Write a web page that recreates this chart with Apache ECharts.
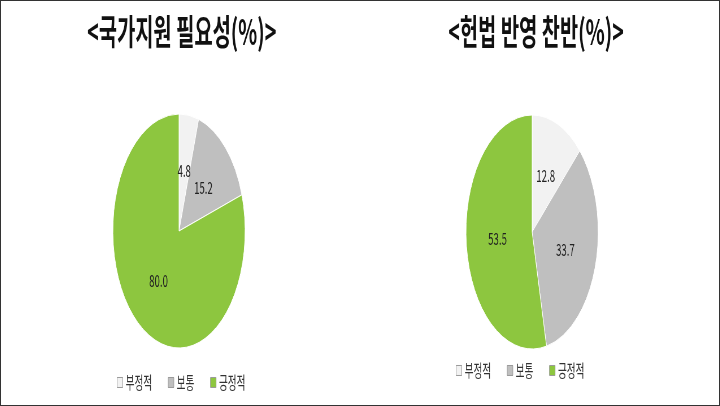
<!DOCTYPE html>
<html><head><meta charset="utf-8">
<script src="https://cdn.jsdelivr.net/npm/echarts@6/dist/echarts.min.js"></script>
<style>
html,body{margin:0;padding:0;background:#fff;overflow:hidden}
#wrap{width:720px;height:406px;position:relative;box-sizing:border-box;border:1px solid #333;overflow:hidden}
#main{width:1274px;height:406px;transform:scaleX(0.565);transform-origin:0 0;position:absolute;left:0;top:0}
</style></head>
<body><div id="wrap"><div id="main"></div></div>
<script>
var categories = ['부정적', '보통', '긍정적'];
var supportValues = [4.8, 15.2, 80.0];
var constitutionValues = [12.8, 33.7, 53.5];
var titles = ['<국가지원 필요성(%)>', '<헌법 반영 찬반(%)>'];
var colors = ['#f2f2f2', '#bfbfbf', '#8dc63f'];

var myChart = echarts.init(document.getElementById('main'));

function makeData(vals){
	return categories.map(function(c,i){ return {name:c, value:vals[i]}; });
}
function makePie(vals, cx, cy){
	return {
		type:'pie', center:[cx, cy], radius:[0, 117], startAngle:90, clockwise:true,
		silent:true, data:makeData(vals),
		itemStyle:{borderColor:'#fff', borderWidth:1},
		label:{show:true, position:'inner', color:'#222', fontSize:17, fontFamily:'Noto Sans CJK KR',
			formatter:function(p){ return p.value.toFixed(1); }},
		labelLine:{show:false}
	};
}

myChart.setOption({
	animation:false,
	color:colors,
	title:[
		{text:titles[0], left:315, top:8, textAlign:'center',
			textStyle:{fontSize:35, fontWeight:'bold', color:'#111', fontFamily:'Noto Sans CJK KR'}},
		{text:titles[1], left:942, top:8, textAlign:'center',
			textStyle:{fontSize:35, fontWeight:'bold', color:'#111', fontFamily:'Noto Sans CJK KR'}}
	],
	legend:[
		{data:categories, left:200, top:368, itemWidth:10, itemHeight:10, itemGap:28, icon:'rect',
			itemStyle:{borderColor:'#999', borderWidth:1},
			textStyle:{fontSize:17, color:'#333', fontFamily:'Noto Sans CJK KR'}},
		{data:categories, left:800, top:356, itemWidth:10, itemHeight:10, itemGap:28, icon:'rect',
			itemStyle:{borderColor:'#999', borderWidth:1},
			textStyle:{fontSize:17, color:'#333', fontFamily:'Noto Sans CJK KR'}}
	],
	series:[makePie(supportValues, 315, 230), makePie(constitutionValues, 940, 231)]
});
</script></body></html>
